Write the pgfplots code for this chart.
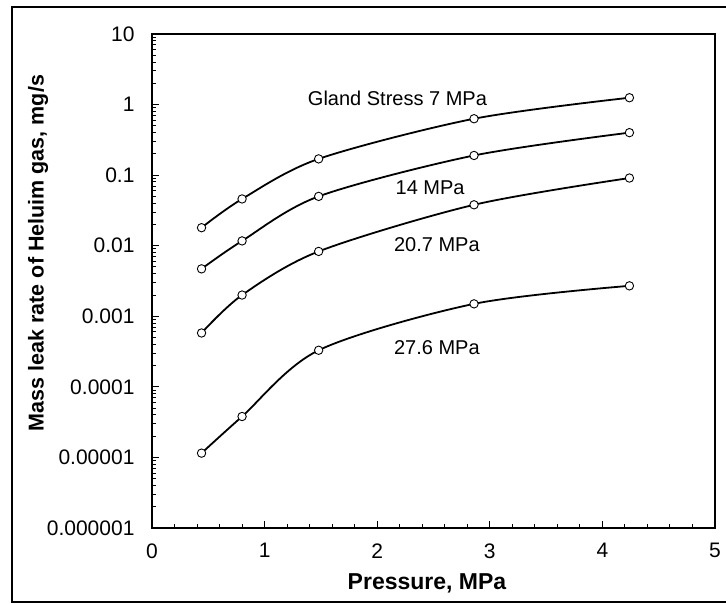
\documentclass[border=0pt]{standalone}
\usepackage{pgfplots}
\pgfplotsset{compat=1.18}
\usepackage{fontspec}
\setmainfont{Liberation Sans}
\begin{document}
\begin{tikzpicture}[x=1pt,y=1pt]
\useasboundingbox (0,0) rectangle (726,604);
\draw[line width=2.5pt] (730,2) -- (12,2) -- (12,597) -- (730,597);
\begin{axis}[
  at={(152pt,76pt)}, anchor=south west,
  scale only axis, width=563pt, height=494pt,
  xmin=0, xmax=5, ymode=log, ymin=1e-6, ymax=10,
  axis line style={line width=1.6pt},
  tick pos=left, tick align=inside,
  major tick length=7pt, minor tick length=4pt,
  every tick/.style={line width=1pt, black},
  xtick={0,1,2,3,4,5}, minor x tick num=4,
  ytick={1e-6,1e-5,1e-4,1e-3,1e-2,1e-1,1,10},
  yticklabels={0.000001,0.00001,0.0001,0.001,0.01,0.1,1,10},
  tick label style={font=\fontsize{21}{23}\selectfont},
  /pgf/number format/assume math mode=true,
  xticklabel style={yshift=-12pt},
  yticklabel style={xshift=-14pt},
  curve/.style={black, line width=1.8pt, smooth, tension=0.5,
    mark=*, mark options={fill=white, draw=black, line width=0.9pt, scale=2.1, solid}},
  clip=false,
]
\addplot[curve] coordinates {(0.44,0.018) (0.80,0.046) (1.48,0.17) (2.86,0.63) (4.24,1.25)};
\addplot[curve] coordinates {(0.44,0.0047) (0.80,0.0117) (1.48,0.050) (2.86,0.19) (4.24,0.40)};
\addplot[curve] coordinates {(0.44,0.00058) (0.80,0.0020) (1.48,0.0083) (2.86,0.038) (4.24,0.091)};
\addplot[curve] coordinates {(0.44,0.0000115) (0.80,0.000038) (1.48,0.00033) (2.86,0.0015) (4.24,0.0027)};
\node[font=\fontsize{20}{22}\selectfont] at (axis cs:2.18,1.24) {Gland Stress 7 MPa};
\node[font=\fontsize{20}{22}\selectfont] at (axis cs:2.47,0.066) {14 MPa};
\node[font=\fontsize{20}{22}\selectfont] at (axis cs:2.53,0.0102) {20.7 MPa};
\node[font=\fontsize{20}{22}\selectfont] at (axis cs:2.53,0.00036) {27.6 MPa};
\end{axis}
\node[font=\fontsize{23}{25}\selectfont\bfseries] at (427,21) {Pressure, MPa};
\node[font=\fontsize{21.5}{24}\selectfont\bfseries, rotate=90] at (38,351) {Mass leak rate of Heluim gas, mg/s};
\end{tikzpicture}
\end{document}
